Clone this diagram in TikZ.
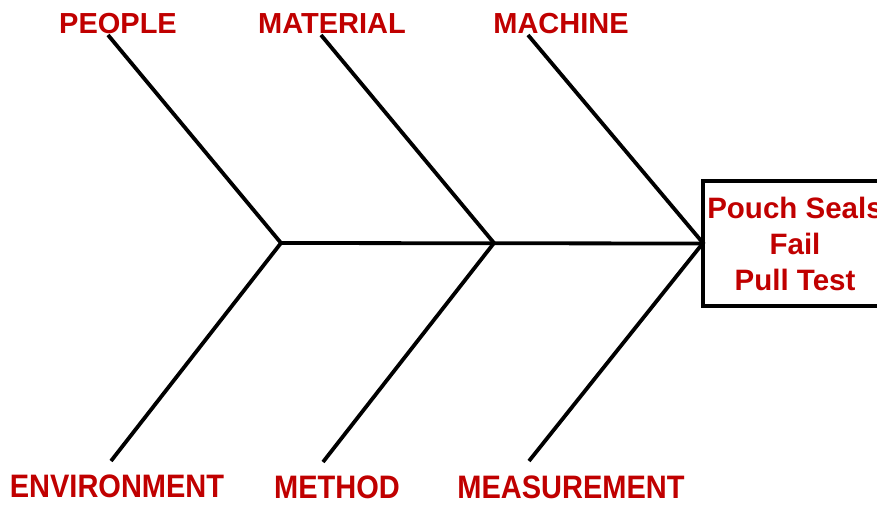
\documentclass[tikz,border=0pt]{standalone}
\usepackage{fontspec}
\setmainfont{Liberation Sans}
\definecolor{lblred}{HTML}{C00000}
\begin{document}
\begin{tikzpicture}[x=1pt,y=-1pt,
  bone/.style={line width=3.8pt,black,line cap=butt},
  cat/.style={text=lblred,font=\fontsize{29}{31}\selectfont\bfseries,anchor=base,inner sep=0pt},
  effectbox/.style={draw=black,line width=3.8pt,minimum width=184pt,minimum height=125pt,inner sep=0pt,
    text=lblred,font=\fontsize{29.5}{36}\selectfont\bfseries,align=center}]
\useasboundingbox (0,0) rectangle (877,504);
\clip (0,0) rectangle (877,504);
% junctions
\coordinate (j1) at (281,243);
\coordinate (j2) at (494,243);
\coordinate (j3) at (703,243);
% effect box
\node[effectbox] (effect) at (795,243.5) {Pouch Seals\\Fail\\Pull Test};
% labels
\node[cat] (people) at (118,33) {PEOPLE};
\node[cat] (material) at (332,33) {MATERIAL};
\node[cat] (machine) at (561,33) {MACHINE};
\node[cat] (environment) at (117,497) {\scalebox{1}[1.12]{ENVIRONMENT}};
\node[cat] (method) at (337,498) {\scalebox{1}[1.12]{METHOD}};
\node[cat] (measurement) at (571,498) {\scalebox{1}[1.12]{MEASUREMENT}};
% free ends of bones
\coordinate (pe) at (108,35);
\coordinate (ma) at (321,35);
\coordinate (mc) at (528,35);
\coordinate (en) at (111,461);
\coordinate (me) at (323,462);
\coordinate (ms) at (529,461);
% spine
\draw[bone] (j1) -- (effect.west);
% bones
\draw[bone,line join=miter] (pe) -- (j1) -- (en);
\draw[bone,line join=miter] (ma) -- (j2) -- (me);
\draw[bone,line join=miter] (mc) -- (j3) -- (ms);
\end{tikzpicture}
\end{document}
